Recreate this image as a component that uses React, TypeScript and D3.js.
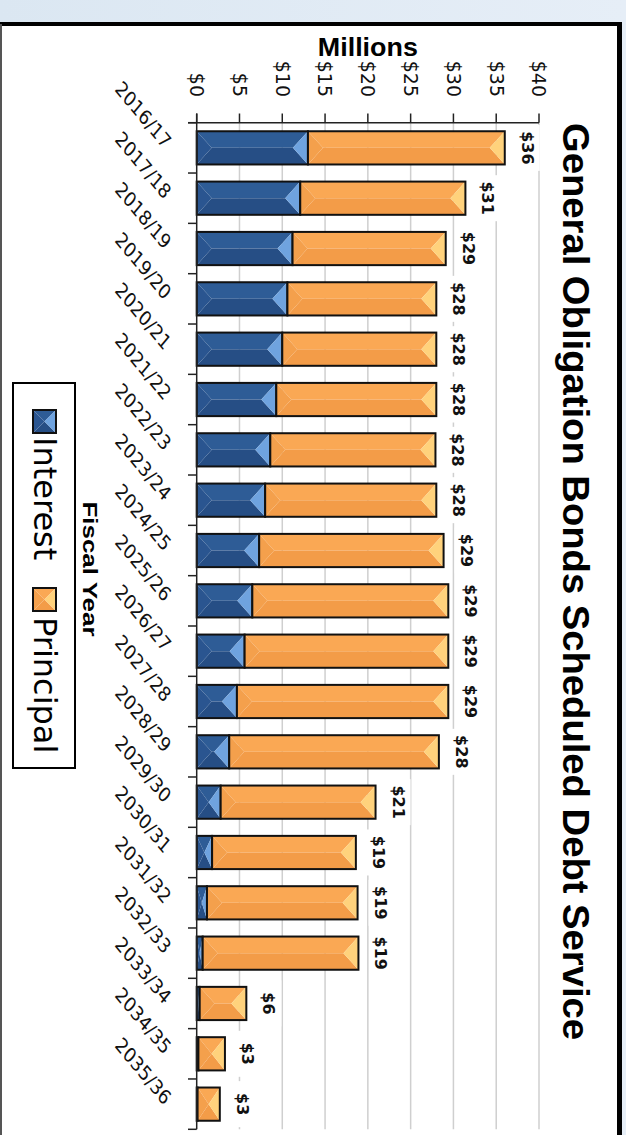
import React from 'react';
import * as d3 from 'd3';

const categories = ['2016/17','2017/18','2018/19','2019/20','2020/21','2021/22','2022/23','2023/24','2024/25','2025/26','2026/27','2027/28','2028/29','2029/30','2030/31','2031/32','2032/33','2033/34','2034/35','2035/36'];
const interest = [13.0, 12.1, 11.2, 10.6, 10.0, 9.3, 8.6, 8.0, 7.3, 6.5, 5.6, 4.7, 3.8, 2.8, 1.8, 1.2, 0.7, 0.35, 0.2, 0.1];
const principal = [23.0, 19.3, 17.9, 17.4, 18.0, 18.7, 19.3, 20.0, 21.55, 22.9, 23.8, 24.7, 24.5, 18.1, 16.8, 17.6, 18.2, 5.45, 3.1, 2.6];
const valueTicks = [0, 5, 10, 15, 20, 25, 30, 35, 40];
const seriesNames = ['Interest', 'Principal'];

const W = 626, H = 1135;
const FONT = 'DejaVu Sans, Verdana, sans-serif';
const BOLD = 'Liberation Sans, Arial, sans-serif';

const pal: any = {
  Interest: { top: '#2e5c96', bottom: '#264e85', left: '#2a5590', right: '#6fa3df' },
  Principal: { top: '#faa854', bottom: '#f39c48', left: '#f4a04c', right: '#ffd27c' },
};

function Bevel({ x0, x1, y0, h, c }: any) {
  const w = x1 - x0;
  if (w <= 0) return null;
  const d = Math.min(h / 2, w / 2, 15);
  const yc = y0 + h / 2;
  const y1 = y0 + h;
  const pts = (a: number[][]) => a.map(p => p.join(',')).join(' ');
  return (
    <g>
      <polygon points={pts([[x0, y0], [x1, y0], [x1 - d, yc], [x0 + d, yc]])} fill={c.top} />
      <polygon points={pts([[x0, y1], [x1, y1], [x1 - d, yc], [x0 + d, yc]])} fill={c.bottom} />
      <polygon points={pts([[x0, y0], [x0, y1], [x0 + d, yc]])} fill={c.left} />
      <polygon points={pts([[x1, y0], [x1, y1], [x1 - d, yc]])} fill={c.right} />
      <rect x={x0} y={y0} width={w} height={h} fill="none" stroke="#111" strokeWidth={2} />
    </g>
  );
}

export default function App() {
  const x = d3.scaleLinear().domain([0, 40]).range([196.7, 539]);
  const y = d3.scaleBand<string>().domain(categories).range([122.7, 1129.3]).paddingInner(0.34).paddingOuter(0.17);
  const step = y.step();
  const bw = y.bandwidth();
  const bounds = d3.range(categories.length + 1).map(i => 122.7 + i * step);
  const totals = categories.map((_, i) => interest[i] + principal[i]);

  return (
    <svg width={W} height={H} style={{ position: 'absolute', left: 0, top: 0 }}>
      <defs>
        <linearGradient id="bg" x1="0" y1="0" x2="1" y2="0">
          <stop offset="0" stopColor="#dbe7f2" />
          <stop offset="1" stopColor="#e6eef7" />
        </linearGradient>
      </defs>
      <rect x={0} y={0} width={W} height={H} fill="url(#bg)" />
      <rect x={1} y={24} width={618} height={1200} fill="#fff" />
      <line x1={0} x2={622} y1={24} y2={24} stroke="#000" strokeWidth={4} />
      <line x1={619.5} x2={619.5} y1={22} y2={H} stroke="#000" strokeWidth={5} />
      <line x1={1} x2={1} y1={24} y2={H} stroke="#555" strokeWidth={2} />

      {valueTicks.filter(t => t > 0).map(t => (
        <line key={t} x1={x(t)} x2={x(t)} y1={122.7} y2={1129.3} stroke="#cfcfcf" strokeWidth={1.5} />
      ))}

      {categories.map((c, i) => {
        const bx = x(totals[i]) + 17;
        const cy = (y(c) as number) + bw / 2;
        return (
          <g key={'lab' + c}>
            <rect x={bx - 6} y={cy - 23} width={24} height={46} fill="#fff" />
            <text transform={`translate(${bx},${cy}) rotate(90)`} textAnchor="middle" fontFamily={FONT} fontWeight="bold" fontSize={16} fill="#111">
              {`$${Math.round(totals[i])}`}
            </text>
          </g>
        );
      })}

      {categories.map((c, i) => {
        const y0 = y(c) as number;
        return (
          <g key={c}>
            <Bevel x0={x(0)} x1={x(interest[i])} y0={y0} h={bw} c={pal.Interest} />
            <Bevel x0={x(interest[i])} x1={x(totals[i])} y0={y0} h={bw} c={pal.Principal} />
          </g>
        );
      })}

      <line x1={188} x2={x(40)} y1={122.7} y2={122.7} stroke="#222" strokeWidth={1.5} />
      {valueTicks.map(t => (
        <g key={'vt' + t}>
          <line x1={x(t)} x2={x(t)} y1={113.5} y2={122.7} stroke="#222" strokeWidth={1.5} />
          <text transform={`translate(${x(t)},97) rotate(90)`} textAnchor="end" dy="0.35em" fontFamily={FONT} fontSize={19} fill="#111">
            {`$${t}`}
          </text>
        </g>
      ))}
      <text x={x(20)} y={56} textAnchor="middle" fontFamily={BOLD} fontWeight="bold" fontSize={26} textLength={100} lengthAdjust="spacingAndGlyphs" fill="#000">Millions</text>

      <line x1={x(0)} x2={x(0)} y1={113.5} y2={1129.3} stroke="#222" strokeWidth={1.5} />
      {bounds.map((b, i) => (
        <line key={'ct' + i} x1={188} x2={x(0)} y1={b} y2={b} stroke="#222" strokeWidth={1.5} />
      ))}
      {categories.map(c => {
        const cy = (y(c) as number) + bw / 2;
        return (
          <text key={'cl' + c} transform={`translate(164,${cy + 2}) scale(1,1.2) rotate(45)`} textAnchor="end" fontFamily={FONT} fontSize={17} fill="#111">
            {c}
          </text>
        );
      })}
      <text transform="translate(83,569) rotate(90)" textAnchor="middle" fontFamily={BOLD} fontWeight="bold" fontSize={21} textLength={135} lengthAdjust="spacingAndGlyphs" fill="#000">Fiscal Year</text>

      <text transform="translate(563,123) rotate(90)" fontFamily={BOLD} fontWeight="bold" fontSize={37} textLength={917} lengthAdjust="spacingAndGlyphs" fill="#000">
        General Obligation Bonds Scheduled Debt Service
      </text>

      <rect x={13} y={383} width={62} height={385} fill="#fff" stroke="#000" strokeWidth={2} />
      {seriesNames.map((s, i) => {
        const my = i === 0 ? 410 : 588;
        const ty = i === 0 ? 437 : 617;
        return (
          <g key={s}>
            <Bevel x0={33} x1={56} y0={my} h={23} c={pal[s]} />
            <text transform={`translate(34,${ty}) rotate(90)`} fontFamily={FONT} fontSize={32} fill="#000">{s}</text>
          </g>
        );
      })}
    </svg>
  );
}
